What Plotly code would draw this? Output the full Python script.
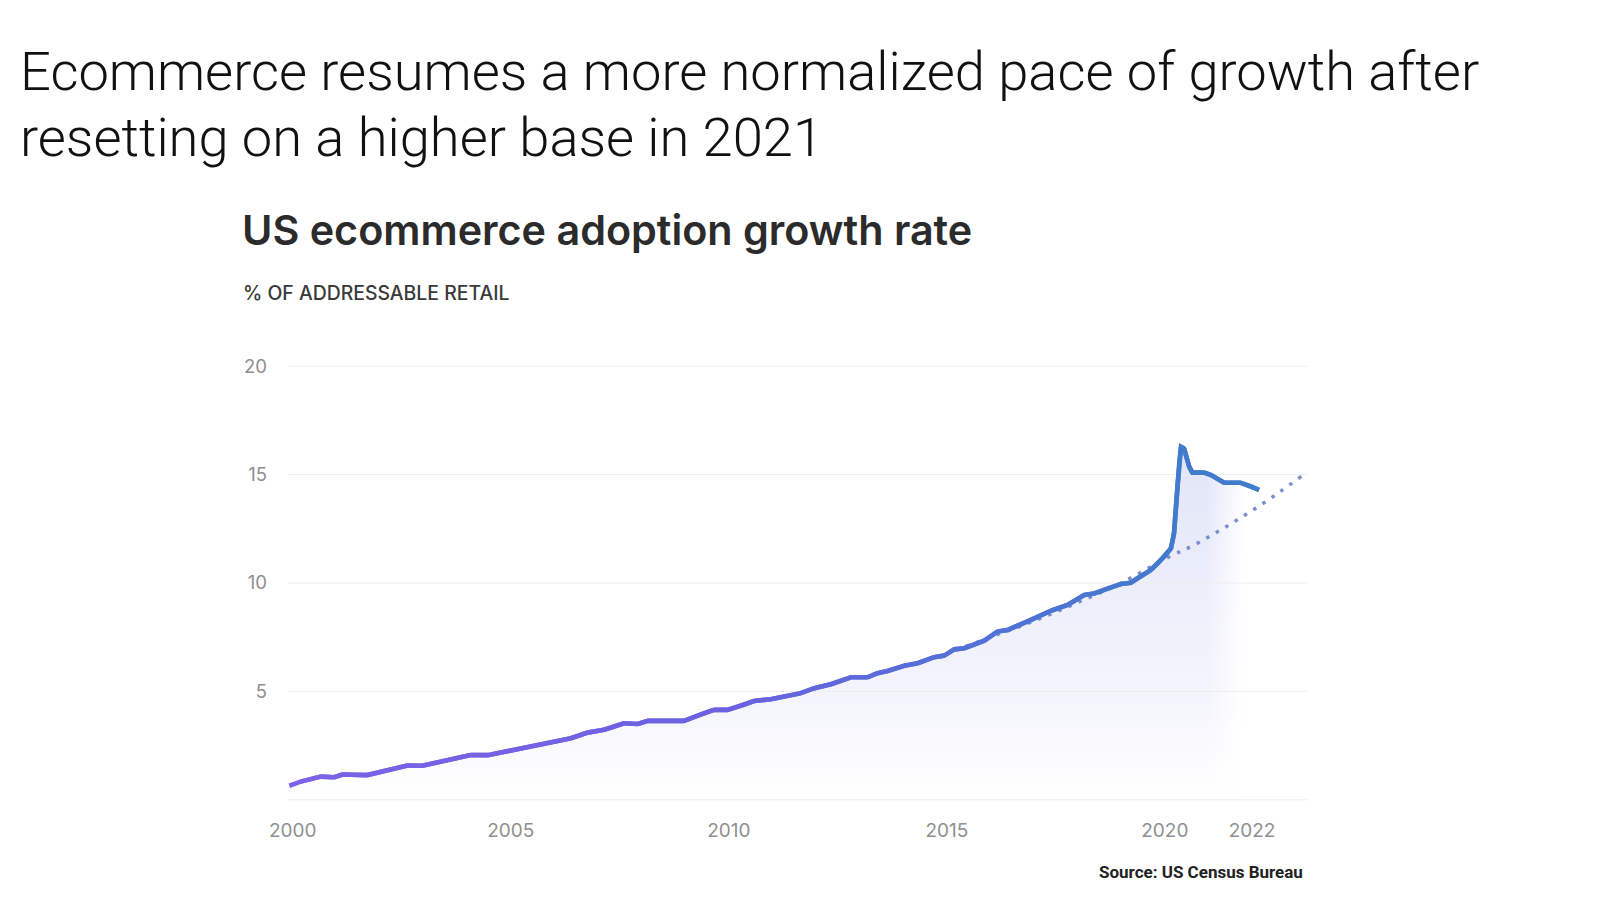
import plotly.graph_objects as go

# ---------------- data ----------------
years = [1999.92, 2000.18, 2000.64, 2000.95, 2001.14, 2001.71, 2002.63, 2002.97, 2004.08, 2004.47,
         2006.38, 2006.76, 2007.14, 2007.60, 2007.91, 2008.14, 2008.97, 2009.43, 2009.66, 2009.97,
         2010.35, 2010.58, 2010.96, 2011.65, 2011.96, 2012.34, 2012.80, 2013.18, 2013.41, 2013.64,
         2014.02, 2014.33, 2014.71, 2014.94, 2015.17, 2015.40, 2015.86, 2016.16, 2016.39, 2016.93,
         2017.39, 2017.77, 2018.15, 2018.38, 2018.76, 2018.99, 2019.22, 2019.37, 2019.68, 2019.87,
         2020.02, 2020.14, 2020.21, 2020.29, 2020.33, 2020.37, 2020.44, 2020.56, 2020.63, 2020.90,
         2021.06, 2021.36, 2021.74, 2021.97, 2022.16]
share = [0.65, 0.84, 1.07, 1.04, 1.17, 1.14, 1.58, 1.57, 2.07, 2.06,
         2.84, 3.10, 3.23, 3.53, 3.50, 3.64, 3.64, 4.00, 4.15, 4.15,
         4.38, 4.56, 4.64, 4.92, 5.15, 5.33, 5.65, 5.65, 5.84, 5.94,
         6.18, 6.30, 6.58, 6.65, 6.94, 6.99, 7.34, 7.76, 7.83, 8.29,
         8.72, 8.99, 9.45, 9.52, 9.80, 9.95, 10.01, 10.22, 10.60, 10.98,
         11.29, 11.60, 12.29, 14.44, 15.51, 16.28, 16.20, 15.36, 15.09, 15.09,
         14.98, 14.62, 14.62, 14.47, 14.29]

trend_years = [2015.2, 2016.0, 2017.0, 2018.0, 2019.0, 2020.1, 2020.63, 2021.15, 2021.65,
               2022.14, 2022.64, 2023.14]
trend_share = [6.9, 7.5, 8.25, 9.1, 10.0, 11.21, 11.71, 12.29, 12.90,
               13.52, 14.21, 14.93]

x_tick_vals = [2000, 2005, 2010, 2015, 2020, 2022]
x_tick_text = ["2000", "2005", "2010", "2015", "2020", "2022"]
y_tick_vals = [0, 5, 10, 15, 20]
y_tick_text = ["", "5", "10", "15", "20"]

slide_title_1 = "Ecommerce resumes a more normalized pace of growth after"
slide_title_2 = "resetting on a higher base in 2021"
chart_title = "US ecommerce adoption growth rate"
chart_subtitle = "% OF ADDRESSABLE RETAIL"
source_text = "Source: US Census Bureau"

# ---------------- style ----------------
W, H = 1600, 912
L, R, T, B = 288, 293, 364, 110
PW, PH = W - L - R, H - T - B
X_RANGE = [1999.89, 2023.26]
Y_RANGE = [-0.1, 20.1]

color_stops = [(2000, (124, 98, 230)), (2010, (107, 98, 224)), (2015, (85, 112, 216)),
               (2019, (70, 120, 208)), (2021, (63, 124, 204))]


def line_color(yr):
    if yr <= color_stops[0][0]:
        c = color_stops[0][1]
    elif yr >= color_stops[-1][0]:
        c = color_stops[-1][1]
    else:
        for (a, ca), (b, cb) in zip(color_stops[:-1], color_stops[1:]):
            if a <= yr <= b:
                t = (yr - a) / (b - a)
                c = tuple(ca[k] + (cb[k] - ca[k]) * t for k in range(3))
                break
    return "rgb(%d,%d,%d)" % tuple(int(round(v)) for v in c)


def px(p):
    return (p - L) / PW


def py(p):
    return (H - B - p) / PH


fig = go.Figure()

# area fill under the curve (vertical fade)
fig.add_trace(go.Scatter(
    x=years, y=share, mode="lines", line=dict(width=0), fill="tozeroy",
    fillgradient=dict(type="vertical", start=0, stop=16.5,
                      colorscale=[[0, "rgba(236,238,250,0.0)"], [0.3, "rgba(234,236,250,0.55)"],
                                  [0.7, "rgba(229,232,248,0.85)"], [1, "rgba(224,228,247,1)"]]),
    hoverinfo="skip", showlegend=False))

# right-hand fade of the fill
sub = [i for i, yv in enumerate(years) if yv >= 2020.5]
fig.add_trace(go.Scatter(
    x=[years[i] for i in sub], y=[share[i] + 0.05 for i in sub], mode="lines", line=dict(width=0),
    fill="tozeroy",
    fillgradient=dict(type="horizontal", start=2020.95, stop=2021.8,
                      colorscale=[[0, "rgba(255,255,255,0)"], [1, "rgba(255,255,255,1)"]]),
    hoverinfo="skip", showlegend=False))

# horizontal gridlines (drawn over the fill so the fade does not hide them)
for v in y_tick_vals:
    fig.add_trace(go.Scatter(x=X_RANGE, y=[v, v], mode="lines",
                             line=dict(color="#ededed", width=1),
                             hoverinfo="skip", showlegend=False))

# dotted trend
fig.add_trace(go.Scatter(
    x=trend_years, y=trend_share, mode="lines",
    line=dict(color="rgb(122,142,204)", width=3.5, dash="3.5px,7.5px", shape="spline"),
    hoverinfo="skip", showlegend=False))

# gradient coloured main line, drawn as short overlapping pieces
for i in range(len(years) - 1):
    xs = years[i:i + 3]
    ys = share[i:i + 3]
    mid = (years[i] + years[i + 1]) / 2
    fig.add_trace(go.Scatter(x=xs, y=ys, mode="lines",
                             line=dict(color=line_color(mid), width=4.6),
                             hoverinfo="skip", showlegend=False))

fig.update_xaxes(range=X_RANGE, tickvals=x_tick_vals, ticktext=x_tick_text,
                 showgrid=False, zeroline=False, showline=False, ticks="",
                 tickfont=dict(family="Inter, Roboto, sans-serif", size=19, color="#8f8f8f"),
                 ticklabelstandoff=15, fixedrange=True)
fig.update_yaxes(range=Y_RANGE, tickvals=y_tick_vals, ticktext=y_tick_text,
                 showgrid=False, zeroline=False, showline=False,
                 ticks="", tickfont=dict(family="Inter, Roboto, sans-serif", size=18.5, color="#8f8f8f"),
                 ticklabelstandoff=20, fixedrange=True)

annotations = [
    dict(text=slide_title_1, x=px(18), y=py(71), xanchor="left", yanchor="middle",
         font=dict(family="Roboto", size=54.3, color="#111111", weight=300)),
    dict(text=slide_title_2, x=px(18), y=py(137), xanchor="left", yanchor="middle",
         font=dict(family="Roboto", size=54.3, color="#111111", weight=300)),
    dict(text=chart_title, x=px(240), y=py(230), xanchor="left", yanchor="middle",
         font=dict(family="Inter", size=41.3, color="#2b2b2b", weight=600)),
    dict(text=chart_subtitle, x=px(241), y=py(293), xanchor="left", yanchor="middle",
         font=dict(family="Inter", size=19.4, color="#3a3a3a", weight=500)),
    dict(text=source_text, x=px(1305), y=py(872), xanchor="right", yanchor="middle",
         font=dict(family="Roboto", size=17, color="#222222", weight=700)),
]
for a in annotations:
    a.update(xref="paper", yref="paper", showarrow=False)

fig.update_layout(
    width=W, height=H, margin=dict(l=L, r=R, t=T, b=B, autoexpand=False),
    paper_bgcolor="white", plot_bgcolor="white",
    annotations=annotations, showlegend=False, hovermode=False,
)

fig.write_html("out.html", config={"displayModeBar": False},
               post_script="document.body.style.margin='0';document.body.style.overflow='hidden';")
